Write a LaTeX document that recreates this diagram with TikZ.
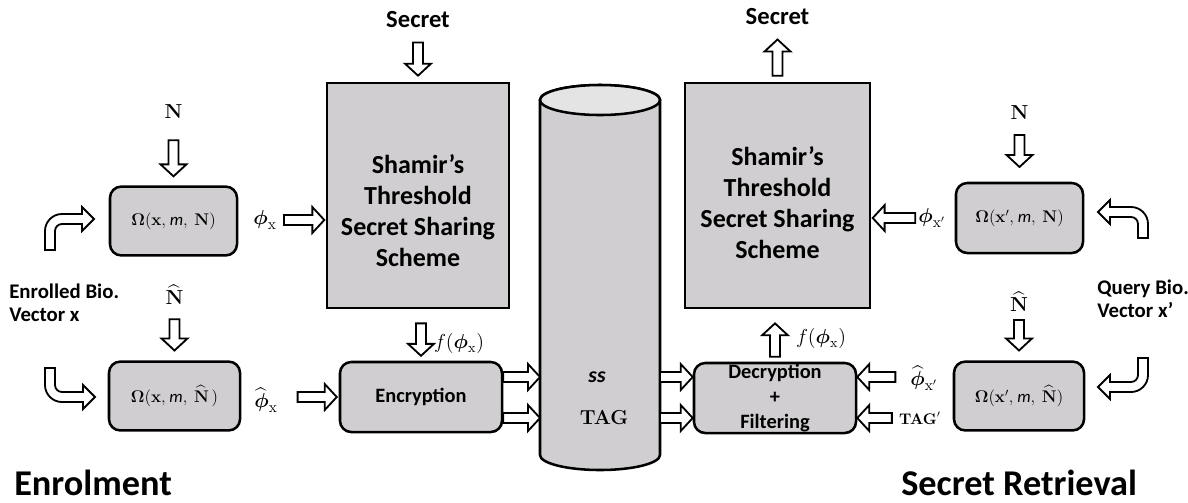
\documentclass[tikz,border=0pt]{standalone}
\usepackage{amsmath}
\usepackage[no-math]{fontspec}
\setmainfont{Carlito}
\usetikzlibrary{calc}
\definecolor{boxgray}{RGB}{208,206,208}
\definecolor{topgray}{RGB}{228,228,228}

\tikzset{
  hollow/.style={draw, line width=1.3pt, fill=white, line join=miter,
    to path={let \p1=($(\tikztotarget)!8.5pt!(\tikztostart)$) in
      ($(\tikztostart)!3.6pt!90:(\tikztotarget)$) -- ($(\p1)!3.6pt!90:(\tikztotarget)$)
      -- ($(\p1)!9.2pt!90:(\tikztotarget)$) -- (\tikztotarget)
      -- ($(\p1)!9.2pt!-90:(\tikztotarget)$) -- ($(\p1)!3.6pt!-90:(\tikztotarget)$)
      -- ($(\tikztostart)!3.6pt!-90:(\tikztotarget)$) -- cycle}},
  bent/.style={draw, line width=1.3pt, fill=white, line join=miter},
  rbox/.style={draw, line width=1.8pt, fill=boxgray, rounded corners=8pt,
    minimum width=3.2cm, minimum height=1.72cm, inner sep=0pt,
    font=\fontsize{12}{14}\selectfont},
  shbox/.style={draw, line width=1.8pt, fill=boxgray, minimum height=5.625cm, inner sep=0pt},
  shtxt/.style={align=center, font=\fontsize{18.5}{22}\selectfont\bfseries},
  cmd/.style={font=\fontsize{14.5}{17}\selectfont\bfseries},
  lbl/.style={inner sep=2pt, font=\fontsize{17.5}{20}\selectfont\bfseries},
  mlbl/.style={inner sep=2pt, font=\fontsize{15}{18}\selectfont},
  nlbl/.style={inner sep=2pt, font=\fontsize{14.4}{17}\selectfont},
  bio/.style={anchor=west, align=left, inner sep=0pt, font=\fontsize{14.8}{16.5}\selectfont\bfseries},
  ttl/.style={anchor=base west, inner sep=0pt, font=\fontsize{25.8}{30}\selectfont\bfseries}
}

\begin{document}
\begin{tikzpicture}[x=0.025cm, y=-0.025cm]
\useasboundingbox (0,0) rectangle (1188,502);

% enrolment
\node[lbl] (sec1) at (418,20) {Secret};
\node[shbox, minimum width=4.55cm] (sh1) at (418,195.5) {};
\node[shtxt] (sh1t) at (418,211) {Shamir’s\\Threshold\\Secret Sharing\\Scheme};
\node[nlbl] (n1) at (173.5,112) {$\mathbf{N}$};
\node[rbox, minimum width=3.175cm] (om1) at (173.5,221) {$\mathbf{\Omega(x,}\ \textit{m}\mathbf{,\ N)}$};
\node[mlbl] (phix) at (265,220) {$\boldsymbol{\phi}_{\mathrm{x}}$};
\node[bio] (bio1) at (9,303) {Enrolled Bio.\\Vector x};
\node[nlbl] (n2) at (174.5,295) {$\widehat{\mathbf{N}}$};
\node[rbox, minimum width=3.275cm] (om2) at (174.5,396) {$\mathbf{\Omega(x,}\ \textit{m}\mathbf{,\ \widehat{N}\,)}$};
\node[mlbl] (phihx) at (266,400) {$\widehat{\boldsymbol{\phi}}_{\mathrm{x}}$};
\node[rbox, cmd, minimum width=4.05cm, minimum height=1.75cm] (enc) at (421,397) {Encryption};
\node[mlbl, font=\fontsize{14.4}{17}\selectfont] (f1) at (459,343) {$f(\boldsymbol{\phi}_{\mathrm{x}})$};
\node[ttl] (ttl1) at (14,495) {Enrolment};

% storage
\draw[line width=1.8pt, fill=boxgray] (540,100) -- (540,455)
  arc[start angle=180, end angle=0, x radius=60, y radius=15] -- (660,100)
  arc[start angle=0, end angle=-180, x radius=60, y radius=15] -- cycle;
\draw[line width=1.8pt, fill=topgray] (600,100) ellipse [x radius=60, y radius=15];
\coordinate (cylW) at (540,277);
\coordinate (cylE) at (660,277);
\node[font=\fontsize{15.5}{18}\selectfont\bfseries\itshape] (ss) at (597,377) {ss};
\node[font=\fontsize{14.4}{17}\selectfont] (tag) at (604,418) {$\mathbf{TAG}$};

% retrieval
\node[lbl] (sec2) at (777.5,17) {Secret};
\node[shbox, minimum width=4.625cm] (sh2) at (777.5,195.5) {};
\node[shtxt] (sh2t) at (777.5,202.5) {Shamir’s\\Threshold\\Secret Sharing\\Scheme};
\node[rbox, minimum width=4.05cm, minimum height=1.75cm, align=center,
  font=\fontsize{14.5}{17.5}\selectfont\bfseries] (dec) at (775,398) {Decryption\\+\\Filtering};
\node[mlbl, font=\fontsize{14.4}{17}\selectfont] (f2) at (821,338) {$f(\boldsymbol{\phi}_{\mathrm{x}})$};
\node[nlbl] (n3) at (1019.5,113) {$\mathbf{N}$};
\node[rbox, minimum width=3.175cm, minimum height=1.75cm] (om3) at (1019.5,218) {$\mathbf{\Omega(x',}\ \textit{m}\mathbf{,\ N)}$};
\node[mlbl] (phixp) at (932,218) {$\boldsymbol{\phi}_{\mathrm{x}'}$};
\node[bio] (bio2) at (1097,299) {Query Bio.\\Vector x’};
\node[nlbl] (n4) at (1019,302) {$\widehat{\mathbf{N}}$};
\node[rbox, minimum width=3.25cm] (om4) at (1019,396) {$\mathbf{\Omega(x',}\ \textit{m}\mathbf{,\ \widehat{N})}$};
\node[mlbl] (phihxp) at (924,378) {$\widehat{\boldsymbol{\phi}}_{\mathrm{x}'}$};
\node[inner sep=2pt, font=\fontsize{10.5}{13}\selectfont] (tagp) at (920,418) {$\mathbf{TAG}'$};
\node[ttl] (ttl2) at (901,495) {Secret Retrieval};

% block arrows
\draw[hollow] ([yshift=-8pt]sec1.south) to ([yshift=4.3pt]sh1.north);
\draw[hollow] ([yshift=-13pt]n1.south) to ([yshift=6.4pt]om1.north);
\draw[hollow] ([xshift=3pt]phix.east) to ([xshift=-1pt]sh1.west |- phix.east);
\draw[hollow] ([yshift=-8pt]n2.south) to ([yshift=7pt]om2.north);
\draw[hollow] ([xshift=12pt]enc.west -| phihx.east) to ([xshift=-1.4pt]enc.west);
\draw[hollow] ([yshift=-10pt]enc.north |- sh1.south) to ([yshift=3.5pt]enc.north);
\draw[hollow] (enc.east |- ss) to (cylW |- ss);
\draw[hollow] (enc.east |- tag) to (cylW |- tag);
\draw[hollow] (cylE |- ss) to (dec.west |- ss);
\draw[hollow] (cylE |- tag) to (dec.west |- tag);
\draw[hollow] ([yshift=3.5pt]dec.north) to ([yshift=-10pt]dec.north |- sh2.south);
\draw[hollow] ([yshift=4.3pt]sh2.north) to ([yshift=-8pt]sec2.south);
\draw[hollow] (phixp.west) to ([xshift=1pt]sh2.east |- phixp.west);
\draw[hollow] ([yshift=-8.5pt]n3.south) to ([yshift=10.5pt]om3.north);
\draw[hollow] ([yshift=-3.5pt]n4.south) to ([yshift=7pt]om4.north);
\draw[hollow] ([xshift=-8.5pt]phihxp.west |- ss) to (dec.east |- ss);
\draw[hollow] ([xshift=-3pt]tagp.west |- tag) to (dec.east |- tag);

% bent arrows for the bio vectors
\draw[bent] (45,250) -- (45,231) arc[start angle=180, end angle=270, radius=17]
  -- (82,214) -- (82,207) -- (94,219) -- (82,231) -- (82,224) -- (62,224)
  arc[start angle=270, end angle=180, radius=7] -- (55,250) -- cycle;
\draw[bent] (45,368) -- (45,385) arc[start angle=180, end angle=90, radius=17]
  -- (83,402) -- (83,409) -- (95,397) -- (83,385) -- (83,392) -- (62,392)
  arc[start angle=90, end angle=180, radius=7] -- (55,368) -- cycle;
\draw[bent] (1138,238) -- (1138,224) arc[start angle=0, end angle=-90, radius=7]
  -- (1110,217) -- (1110,224) -- (1098,212) -- (1110,200) -- (1110,207) -- (1131,207)
  arc[start angle=-90, end angle=0, radius=17] -- (1148,238) -- cycle;
\draw[bent] (1148,358) -- (1148,375) arc[start angle=0, end angle=90, radius=17]
  -- (1110,392) -- (1110,399) -- (1098,387) -- (1110,375) -- (1110,382) -- (1131,382)
  arc[start angle=90, end angle=0, radius=7] -- (1138,358) -- cycle;
\end{tikzpicture}
\end{document}
